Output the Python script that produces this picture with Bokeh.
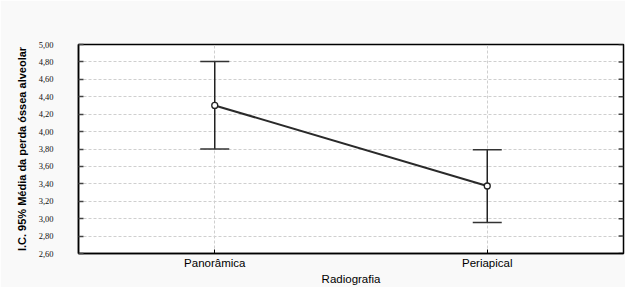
from bokeh.plotting import figure
from bokeh.models import ColumnDataSource, Whisker, TeeHead, FixedTicker, CustomJSTickFormatter, Range1d
from bokeh.embed import file_html
from bokeh.resources import INLINE

categories = ["Panorâmica", "Periapical"]
means = [4.30, 3.375]
upper = [4.805, 3.79]
lower = [3.80, 2.955]
y_ticks = [2.6, 2.8, 3.0, 3.2, 3.4, 3.6, 3.8, 4.0, 4.2, 4.4, 4.6, 4.8, 5.0]

xpos = [i + 0.5 for i in range(len(categories))]
src = ColumnDataSource(dict(x=xpos, m=means, up=upper, lo=lower))

x_end = float(len(categories))
p = figure(width=625, height=287, x_range=Range1d(0, x_end),
           y_range=Range1d(y_ticks[0], y_ticks[-1]), output_backend="svg", toolbar_location=None,
           min_border_left=78, min_border_right=2, min_border_top=44, min_border_bottom=29,
           background_fill_color="white", border_fill_color="#f9f9f9")

p.outline_line_color = "black"
p.outline_line_width = 1.5

fmt = CustomJSTickFormatter(code="return tick.toFixed(2).replace('.', ',');")
yax = p.yaxis[0]
yax.ticker = FixedTicker(ticks=y_ticks)
yax.formatter = fmt
yax.major_tick_in = 5
yax.major_tick_out = 0
yax.minor_tick_line_color = None
yax.major_label_standoff = 25
yax.major_label_text_font = "Liberation Sans Narrow"
yax.major_label_text_font_size = "8.5px"
yax.major_label_text_color = "#111111"
yax.axis_line_width = 1.5
yax.major_tick_line_width = 1.5
yax.major_tick_line_color = "#444444"
yax.axis_label = "I.C. 95% Média da perda óssea alveolar"
yax.axis_label_text_font = "Liberation Sans"
yax.axis_label_text_font_style = "bold"
yax.axis_label_text_font_size = "11px"
yax.axis_label_text_color = "black"
yax.axis_label_standoff = 8

# inward tick marks on the right edge of the frame
tick_len = 0.018
p.segment(x0=[x_end - tick_len] * len(y_ticks), x1=[x_end] * len(y_ticks),
          y0=y_ticks, y1=y_ticks, line_color="#444444", line_width=1.5)

xax = p.xaxis[0]
xax.ticker = FixedTicker(ticks=xpos)
xax.major_label_overrides = {x: c for x, c in zip(xpos, categories)}
xax.minor_tick_line_color = None
xax.major_tick_in = 4
xax.major_tick_out = 0
xax.major_label_text_font = "Liberation Sans"
xax.major_label_text_font_size = "11.5px"
xax.major_label_text_color = "black"
xax.major_label_standoff = 3
xax.axis_line_width = 1.5
xax.axis_label = "Radiografia"
xax.axis_label_text_font = "Liberation Sans"
xax.axis_label_text_font_style = "normal"
xax.axis_label_text_font_size = "11.5px"
xax.axis_label_text_color = "black"
xax.axis_label_standoff = 1

p.ygrid.ticker = FixedTicker(ticks=y_ticks[1:-1])
p.ygrid.grid_line_color = "#cfcfcf"
p.ygrid.grid_line_dash = "3 2"
p.xgrid.grid_line_color = "#cfcfcf"
p.xgrid.grid_line_dash = "3 2"

w = Whisker(source=src, base="x", upper="up", lower="lo", line_color="#222222", line_width=1.5,
            upper_head=TeeHead(size=29, line_color="#333333", line_width=1.5),
            lower_head=TeeHead(size=29, line_color="#333333", line_width=1.5))
p.add_layout(w)

p.line("x", "m", source=src, line_color="#2a2a2a", line_width=2)
p.scatter("x", "m", source=src, size=6, fill_color="white", line_color="#222222", line_width=1.3)

open("out.html", "w").write(file_html(p, INLINE))
